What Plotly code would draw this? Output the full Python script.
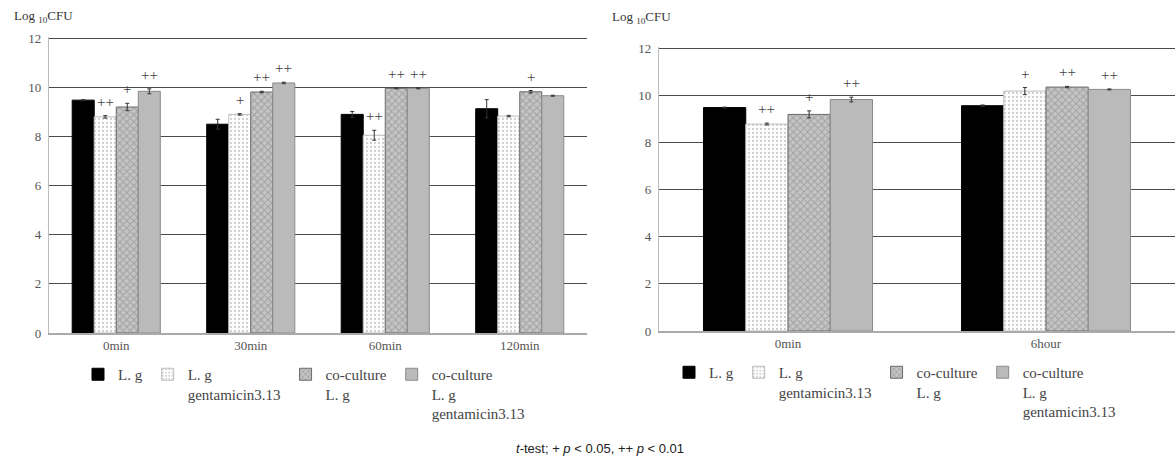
import plotly.graph_objects as go

# ---------------- data ----------------
series_names = ["L. g", "L. g<br>gentamicin3.13", "co-culture<br>L. g",
                "co-culture<br>L. g<br>gentamicin3.13"]

left_categories = ["0min", "30min", "60min", "120min"]
left_lg = [9.48, 8.50, 8.90, 9.13]
left_lg_err = [0.02, 0.20, 0.12, 0.37]
left_lg_gent = [8.80, 8.90, 8.05, 8.83]
left_lg_gent_err = [0.05, 0.03, 0.20, 0.03]
left_co_lg = [9.20, 9.81, 9.96, 9.82]
left_co_lg_err = [0.15, 0.03, 0.02, 0.05]
left_co_gent = [9.84, 10.18, 9.96, 9.66]
left_co_gent_err = [0.10, 0.03, 0.02, 0.02]
left_lg_sig = ["", "", "", ""]
left_lg_gent_sig = ["++", "+", "++", ""]
left_co_lg_sig = ["+", "++", "++", "+"]
left_co_gent_sig = ["++", "++", "++", ""]

right_categories = ["0min", "6hour"]
right_lg = [9.48, 9.56]
right_lg_err = [0.02, 0.03]
right_lg_gent = [8.78, 10.18]
right_lg_gent_err = [0.04, 0.15]
right_co_lg = [9.19, 10.35]
right_co_lg_err = [0.15, 0.03]
right_co_gent = [9.82, 10.25]
right_co_gent_err = [0.10, 0.02]
right_lg_sig = ["", ""]
right_lg_gent_sig = ["++", "+"]
right_co_lg_sig = ["+", "++"]
right_co_gent_sig = ["++", "++"]

y_ticks = [0, 2, 4, 6, 8, 10, 12]
caption = "<i>t</i>-test; + <i>p</i> &lt; 0.05, ++ <i>p</i> &lt; 0.01"
axis_label = "Log <sub>10</sub>CFU"

# ---------------- styles ----------------
W, H = 1175, 465
SERIF = "Liberation Serif, Times New Roman, serif"
styles = [
    dict(color="#000000", line=dict(color="#000000", width=1)),
    dict(color="#ffffff", line=dict(color="#bdbdbd", width=1),
         pattern=dict(shape=".", fgcolor="#9c9c9c", bgcolor="#ffffff",
                      size=4, solidity=0.25, fillmode="overlay")),
    dict(color="#c4c4c4", line=dict(color="#6a6a6a", width=1),
         pattern=dict(shape="x", fgcolor="#7c7c7c", bgcolor="#c4c4c4",
                      size=5, solidity=0.35, fillmode="overlay")),
    dict(color="#bababa", line=dict(color="#8a8a8a", width=1)),
]

LEFT_GAP = 0.345
RIGHT_GAP = 0.34

fig = go.Figure()

panels = [
    dict(cats=left_categories,
         vals=[left_lg, left_lg_gent, left_co_lg, left_co_gent],
         errs=[left_lg_err, left_lg_gent_err, left_co_lg_err, left_co_gent_err],
         sigs=[left_lg_sig, left_lg_gent_sig, left_co_lg_sig, left_co_gent_sig],
         xa="x", ya="y", legend="legend", gap=LEFT_GAP),
    dict(cats=right_categories,
         vals=[right_lg, right_lg_gent, right_co_lg, right_co_gent],
         errs=[right_lg_err, right_lg_gent_err, right_co_lg_err, right_co_gent_err],
         sigs=[right_lg_sig, right_lg_gent_sig, right_co_lg_sig, right_co_gent_sig],
         xa="x2", ya="y2", legend="legend2", gap=RIGHT_GAP),
]

annotations = []
for p in panels:
    for i, name in enumerate(series_names):
        fig.add_trace(go.Bar(
            x=p["cats"], y=p["vals"][i], name=name,
            xaxis=p["xa"], yaxis=p["ya"], legend=p["legend"],
            offsetgroup=str(i),
            marker=styles[i],
            error_y=dict(type="data", array=p["errs"][i], visible=True,
                         color="#333333", thickness=1, width=2),
        ))
        w = (1 - p["gap"]) / 4
        for j, s in enumerate(p["sigs"][i]):
            if s:
                annotations.append(dict(
                    x=j + (i - 1.5) * w, y=p["vals"][i][j] + p["errs"][i][j],
                    xref=p["xa"], yref=p["ya"], text=s, showarrow=False,
                    yanchor="bottom", yshift=4,
                    font=dict(family=SERIF, size=15, color="#444444")))

def px_to_x(px):
    return px / W

def px_to_y(py):
    return (H - py) / H

annotations += [
    dict(x=px_to_x(12), y=px_to_y(17), xref="paper", yref="paper",
         xanchor="left", yanchor="middle", text=axis_label, showarrow=False,
         font=dict(family=SERIF, size=13, color="#333333")),
    dict(x=px_to_x(610), y=px_to_y(18), xref="paper", yref="paper",
         xanchor="left", yanchor="middle", text=axis_label, showarrow=False,
         font=dict(family=SERIF, size=13, color="#333333")),
    dict(x=px_to_x(600), y=px_to_y(448), xref="paper", yref="paper",
         xanchor="center", yanchor="middle", text=caption, showarrow=False,
         font=dict(family="Liberation Sans, Arial, sans-serif", size=13,
                   color="#222222")),
]

yaxis_common = dict(range=[0, 12.05], tickvals=y_ticks, showgrid=True,
                    gridcolor="#4a4a4a", gridwidth=1.2, zeroline=False,
                    showline=True, linecolor="#bbbbbb", linewidth=1.2,
                    ticks="", ticklabelstandoff=4,
                    tickfont=dict(family=SERIF, size=13, color="#555555"),
                    automargin=False, fixedrange=True)
xaxis_common = dict(showgrid=False, showline=True, linecolor="#aaaaaa",
                    linewidth=1.5, ticks="",
                    tickfont=dict(family=SERIF, size=13, color="#555555"),
                    automargin=False, fixedrange=True)

legend_common = dict(orientation="h", valign="top", traceorder="normal",
                     font=dict(family=SERIF, size=15, color="#444444"),
                     bgcolor="rgba(0,0,0,0)", itemclick=False,
                     itemdoubleclick=False, tracegroupgap=0,
                     xanchor="center", yanchor="top")

fig.update_layout(
    width=W, height=H,
    margin=dict(l=0, r=0, t=0, b=0),
    paper_bgcolor="white", plot_bgcolor="white",
    barmode="group", bargap=LEFT_GAP, bargroupgap=0,
    xaxis=dict(domain=[px_to_x(49), px_to_x(587)], anchor="y", **xaxis_common),
    yaxis=dict(domain=[px_to_y(333), px_to_y(37)], anchor="x", **yaxis_common),
    xaxis2=dict(domain=[px_to_x(659), 1.0], anchor="y2", **xaxis_common),
    yaxis2=dict(domain=[px_to_y(331), px_to_y(47)], anchor="x2", **yaxis_common),
    legend=dict(x=px_to_x(304), y=px_to_y(358), **legend_common),
    legend2=dict(x=px_to_x(895), y=px_to_y(356), **legend_common),
    annotations=annotations,
    showlegend=True,
)

fig.write_html("out.html")
